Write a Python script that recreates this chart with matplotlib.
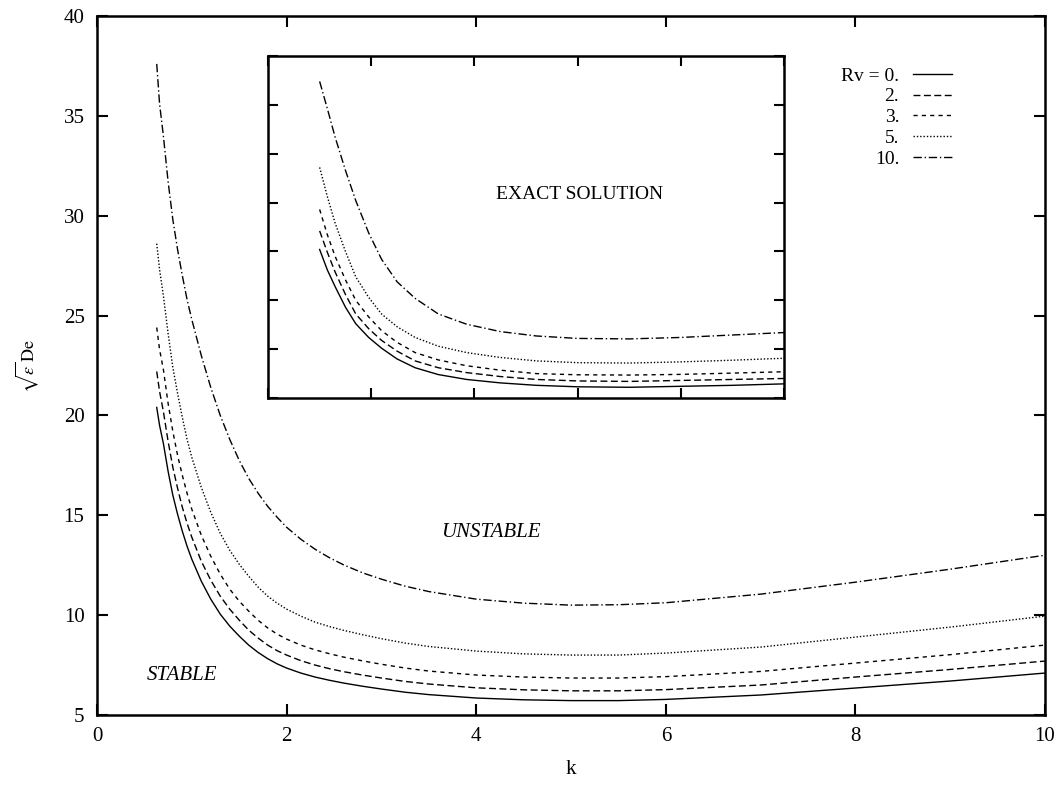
import matplotlib
matplotlib.use("Agg")
import matplotlib.pyplot as plt

plt.rcParams['font.family'] = ['Liberation Serif', 'DejaVu Serif']
plt.rcParams['mathtext.fontset'] = 'stix'

# neutral stability curves sqrt(eps)*De versus k, one per Rv
rv_labels = ["Rv = 0.", "2.", "3.", "5.", "10."]

k = [0.63, 0.66, 0.7, 0.75, 0.8, 0.85, 0.9, 0.95, 1.0,
     1.1, 1.2, 1.3, 1.4, 1.5, 1.6, 1.7, 1.8, 1.9, 2.0,
     2.15, 2.3, 2.45, 2.6, 2.8, 3.0, 3.25, 3.5,
     4.0, 4.5, 5.0, 5.5, 6.0, 7.0, 8.0, 9.0, 10.0]

de_rv0 = [20.4, 19.5, 18.6, 17.2, 16.0, 15.05, 14.2, 13.45, 12.8,
          11.7, 10.8, 10.05, 9.45, 8.95, 8.5, 8.13, 7.82, 7.56, 7.35,
          7.1, 6.9, 6.74, 6.6, 6.44, 6.3, 6.14, 6.02,
          5.85, 5.76, 5.72, 5.72, 5.78, 6.0, 6.35, 6.7, 7.1]
de_rv2 = [22.2, 21.2, 20.2, 18.7, 17.4, 16.35, 15.4, 14.6, 13.9,
          12.7, 11.75, 10.95, 10.3, 9.75, 9.25, 8.85, 8.5, 8.22, 8.0,
          7.72, 7.5, 7.32, 7.17, 7.0, 6.85, 6.68, 6.55,
          6.36, 6.26, 6.21, 6.21, 6.27, 6.5, 6.9, 7.28, 7.7]
de_rv3 = [24.4, 23.3, 22.3, 20.6, 19.2, 18.0, 17.0, 16.1, 15.3,
          14.0, 12.95, 12.05, 11.3, 10.7, 10.2, 9.74, 9.36, 9.05, 8.8,
          8.5, 8.26, 8.07, 7.9, 7.71, 7.54, 7.35, 7.2,
          7.0, 6.9, 6.85, 6.85, 6.92, 7.18, 7.6, 8.02, 8.5]
de_rv5 = [28.6, 27.3, 26.0, 24.1, 22.4, 21.1, 19.9, 18.8, 17.9,
          16.4, 15.15, 14.1, 13.25, 12.55, 11.95, 11.4, 10.95, 10.6, 10.3,
          9.95, 9.65, 9.43, 9.24, 9.02, 8.82, 8.6, 8.43,
          8.2, 8.06, 8.0, 8.0, 8.1, 8.4, 8.9, 9.4, 9.95]
de_rv10 = [37.6, 35.6, 34.0, 31.7, 29.8, 28.3, 27.0, 25.8, 24.8,
           23.0, 21.4, 20.0, 18.8, 17.75, 16.85, 16.1, 15.45, 14.9, 14.4,
           13.8, 13.3, 12.88, 12.52, 12.12, 11.8, 11.45, 11.18,
           10.8, 10.6, 10.5, 10.52, 10.62, 11.05, 11.65, 12.3, 13.0]

# exact solution (inset)
k_ex = [1.0, 1.15, 1.3, 1.5, 1.7, 1.95, 2.2, 2.5, 2.85, 3.3, 3.85, 4.5, 5.2,
        6.0, 7.0, 8.0, 9.0, 10.0]
ex_rv0 = [20.2, 18.1, 16.4, 14.3, 12.6, 11.2, 10.1, 9.0, 8.1, 7.4, 6.9, 6.55, 6.3,
          6.15, 6.1, 6.2, 6.3, 6.45]
ex_rv2 = [22.1, 19.9, 17.9, 15.6, 13.6, 12.1, 10.9, 9.8, 8.8, 8.1, 7.6, 7.2, 6.9,
          6.75, 6.7, 6.8, 6.9, 7.0]
ex_rv3 = [24.3, 21.7, 19.5, 17.1, 15.0, 13.3, 11.9, 10.7, 9.65, 8.9, 8.3, 7.85, 7.5,
          7.38, 7.35, 7.42, 7.55, 7.69]
ex_rv5 = [28.6, 25.6, 22.9, 20.0, 17.4, 15.3, 13.6, 12.3, 11.2, 10.3, 9.65, 9.15, 8.8,
          8.62, 8.58, 8.7, 8.87, 9.07]
ex_rv10 = [37.4, 34.6, 31.7, 28.3, 25.2, 21.9, 19.2, 16.9, 15.2, 13.6, 12.55, 11.8,
           11.35, 11.1, 11.05, 11.2, 11.45, 11.7]

styles = ['-', (0, (5, 2.5)), (0, (3, 3)), (0, (1, 1.4)), (0, (6, 2, 1, 2))]
main_sets = [de_rv0, de_rv2, de_rv3, de_rv5, de_rv10]
exact_sets = [ex_rv0, ex_rv2, ex_rv3, ex_rv5, ex_rv10]


def frame(ax):
    ax.set_xlim(0, 10)
    ax.set_ylim(5, 40)
    ax.set_xticks([0, 2, 4, 6, 8, 10])
    ax.set_yticks([5, 10, 15, 20, 25, 30, 35, 40])
    ax.tick_params(direction='in', top=True, right=True, length=8, width=1.5,
                   labelsize=15, pad=9)
    for s in ax.spines.values():
        s.set_linewidth(1.8)


fig = plt.figure(figsize=(10.59, 7.91), dpi=100)
ax = fig.add_axes([0.0916, 0.0961, 0.8952, 0.8837])
frame(ax)

lines = []
for ys, ls in zip(main_sets, styles):
    ln, = ax.plot(k, ys, color='black', lw=1.0, linestyle=ls)
    lines.append(ln)

ax.set_xlabel('k', fontsize=15, labelpad=10)
ax.set_ylabel(r'$\sqrt{\varepsilon}\,\mathrm{De}$', fontsize=13, labelpad=16)
ax.text(0.9, 7.0, 'STABLE', fontsize=15, style='italic', ha='center', va='center')
ax.text(4.15, 14.15, 'UNSTABLE', fontsize=15, style='italic', ha='center', va='center')

ax.legend(lines, rv_labels, markerfirst=False, frameon=False, fontsize=14,
          handlelength=2.0, handletextpad=0.7, labelspacing=0.16,
          loc='upper right', bbox_to_anchor=(0.92, 0.952))

# inset with the exact solution
axi = fig.add_axes([0.2531, 0.4968, 0.4873, 0.4324])
frame(axi)
axi.tick_params(labelbottom=False, labelleft=False, length=7)
for ys, ls in zip(exact_sets, styles):
    axi.plot(k_ex, ys, color='black', lw=1.0, linestyle=ls)
axi.text(0.604, 0.596, 'EXACT SOLUTION', transform=axi.transAxes, fontsize=14,
         ha='center', va='center')

fig.savefig('out.png', dpi=100)
